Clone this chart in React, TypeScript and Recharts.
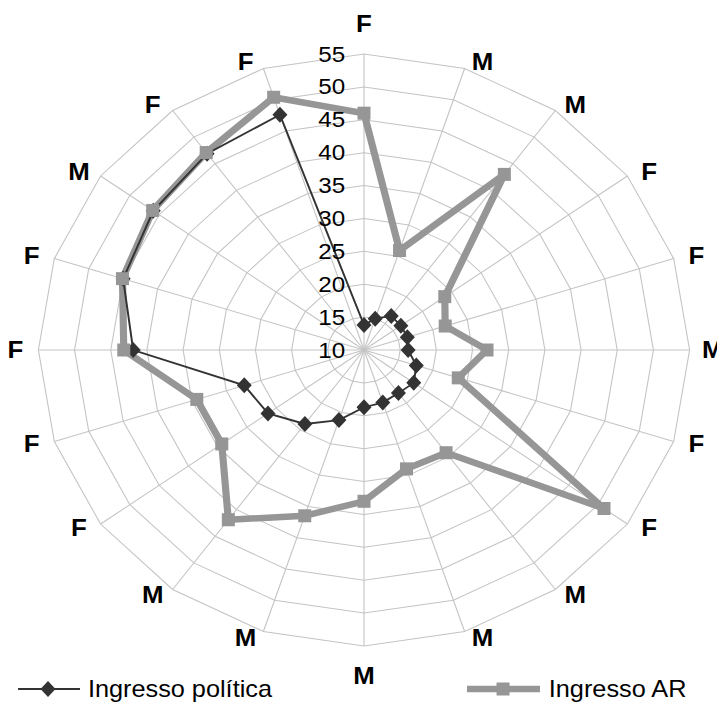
import { RadarChart, Radar, PolarGrid, PolarAngleAxis, PolarRadiusAxis, Legend } from 'recharts'

// category labels, clockwise from the top
const categories = ['F', 'M', 'M', 'F', 'F', 'M', 'F', 'F', 'M', 'M', 'M', 'M', 'M', 'F', 'F', 'F', 'F', 'M', 'F', 'F']

const ingressoPolitica = [13.8, 15.0, 16.4, 16.3, 16.3, 16.1, 17.6, 18.5, 18.1, 18.4, 18.7, 21.2, 23.9, 26.4, 27.4, 41.9, 45.0, 46.0, 46.9, 47.6]
const ingressoAR = [46.0, 25.9, 43.0, 23.8, 21.8, 27.0, 23.7, 51.0, 29.3, 29.0, 33.0, 36.5, 41.9, 34.3, 34.3, 43.2, 45.1, 46.1, 47.1, 50.4]

const radiusDomain = [10, 55]

const rows = categories.map((c, i) => ({
  key: String(i),
  label: c,
  politica: ingressoPolitica[i],
  ar: ingressoAR[i],
}))

const FONT = '"Liberation Sans", Arial, sans-serif'
const DARK = '#333333'
const GRAY = '#969696'
const CX = 364
const CY = 350
const R = 296
// the original picture is stretched sideways
const STRETCH = 1.1

function AngleTick(props: any) {
  const { x, y, payload } = props
  const cx = props.cx ?? CX
  const cy = props.cy ?? CY
  const dx = x - cx
  const dy = y - cy
  const len = Math.hypot(dx, dy) || 1
  const s = dx / len
  const c = -dy / len
  let tx = cx + R * s
  let ty = cy - R * c
  if (Math.abs(s) < 0.05) {
    ty -= c * 30
  } else {
    tx += Math.sign(s) * (14 + 7 * Math.abs(s))
    ty -= c * 7
  }
  return (
    <text x={tx} y={ty} textAnchor="middle" dominantBaseline="central" fontFamily={FONT} fontSize={23.5} fontWeight="bold" fill="#000">
      {categories[Number(payload.value)]}
    </text>
  )
}

function RadiusTick(props: any) {
  const { x, y, payload } = props
  return (
    <text x={x - 17} y={y} textAnchor="end" dominantBaseline="central" fontFamily={FONT} fontSize={22} fill="#000">
      {payload.value}
    </text>
  )
}

function DiamondDot(props: any) {
  const { cx, cy } = props
  const w = 7.5 / STRETCH
  const h = 8
  return <polygon points={`${cx},${cy - h} ${cx + w},${cy} ${cx},${cy + h} ${cx - w},${cy}`} fill={DARK} stroke="none" />
}

function SquareDot(props: any) {
  const { cx, cy } = props
  const w = 13 / STRETCH
  const h = 13
  return <rect x={cx - w / 2} y={cy - h / 2} width={w} height={h} fill={GRAY} stroke="none" />
}

function LegendBox() {
  const y = 17
  return (
    <svg width={717} height={34} style={{ display: 'block' }}>
      <line x1={49.5} x2={105.8} y1={y} y2={y} stroke={DARK} strokeWidth={1.8} />
      <DiamondDot cx={76.7} cy={y} />
      <text x={113} y={y} dominantBaseline="central" fontFamily={FONT} fontSize={23} fill="#000">
        Ingresso política
      </text>
      <line x1={457.6} x2={524} y1={y} y2={y} stroke={GRAY} strokeWidth={6.5} />
      <SquareDot cx={490.4} cy={y} />
      <text x={532} y={y} dominantBaseline="central" fontFamily={FONT} fontSize={23} fill="#000">
        Ingresso AR
      </text>
    </svg>
  )
}

export default function App() {
  return (
    <div style={{ position: 'absolute', left: 0, top: 0, width: 717, height: 713, overflow: 'hidden', background: '#fff' }}>
      <div style={{ width: 717, height: 713, transform: `scaleX(${STRETCH})`, transformOrigin: `${CX}px 0` }}>
        <RadarChart
          width={717}
          height={713}
          data={rows}
          cx={CX}
          cy={CY}
          outerRadius={R}
          margin={{ top: 0, right: 0, bottom: 0, left: 0 }}
        >
          <PolarGrid gridType="polygon" stroke="#c4c4c4" strokeWidth={1} />
          <PolarAngleAxis dataKey="key" tick={AngleTick} tickLine={false} axisLine={false} />
          <PolarRadiusAxis angle={90} domain={radiusDomain} tickCount={10} tick={RadiusTick} axisLine={false} tickLine={false} />
          <Radar
            name="Ingresso AR line"
            dataKey="ar"
            stroke={GRAY}
            strokeWidth={6.5}
            fill="none"
            fillOpacity={0}
            dot={false}
            legendType="none"
            isAnimationActive={false}
          />
          <Radar
            name="Ingresso política"
            dataKey="politica"
            stroke={DARK}
            strokeWidth={1.8}
            fill="none"
            fillOpacity={0}
            dot={DiamondDot}
            isAnimationActive={false}
          />
          <Radar
            name="Ingresso AR"
            dataKey="ar"
            stroke="none"
            fill="none"
            fillOpacity={0}
            dot={SquareDot}
            isAnimationActive={false}
          />
          <Legend content={LegendBox} wrapperStyle={{ position: 'absolute', left: 0, top: 672, width: 717, height: 34 }} />
        </RadarChart>
      </div>
    </div>
  )
}
